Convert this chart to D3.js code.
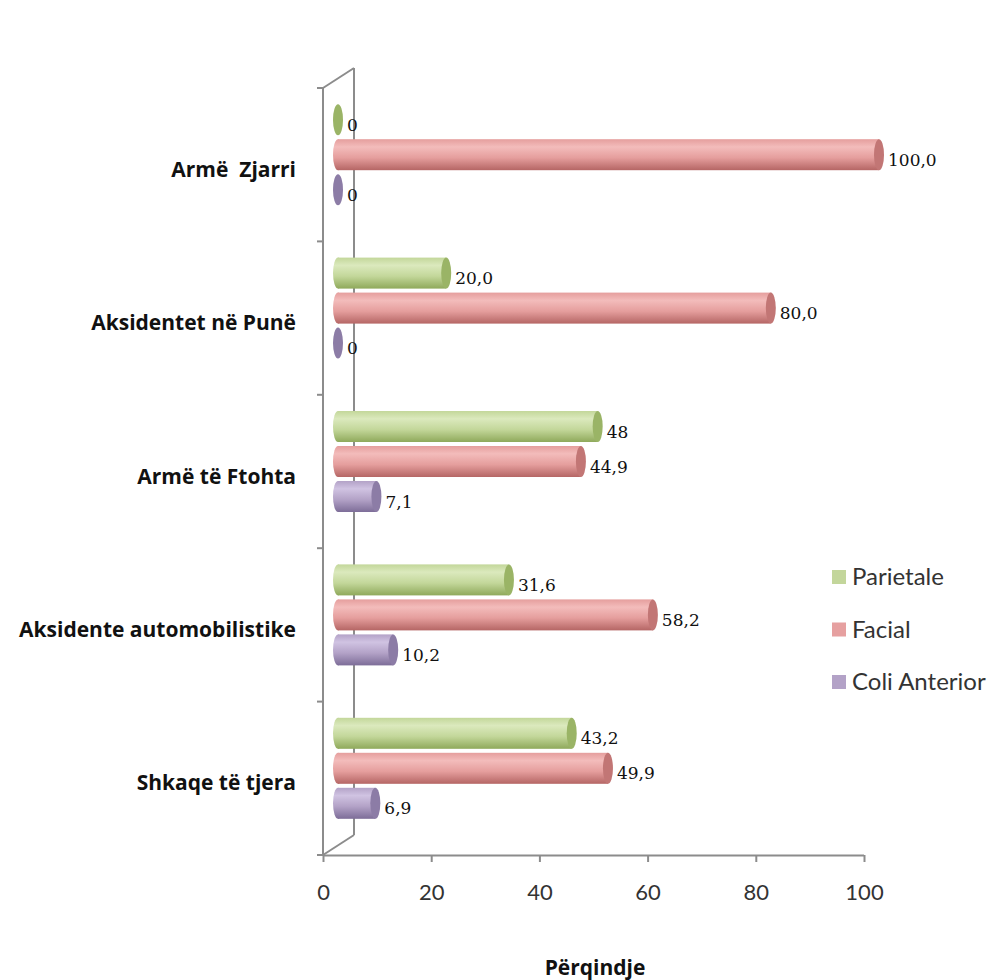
<!DOCTYPE html>
<html>
<head>
<meta charset="utf-8">
<script src="https://cdn.jsdelivr.net/npm/d3@7"></script>
<style>
  html, body { margin: 0; padding: 0; background: #fff; }
  svg { display: block; }
  .cat { white-space: pre; }
</style>
</head>
<body>
<script>
// Categories (top to bottom) and the three series
const categories = ["Armë  Zjarri", "Aksidentet në Punë", "Armë të Ftohta", "Aksidente automobilistike", "Shkaqe të tjera"];
const seriesNames = ["Parietale", "Facial", "Coli Anterior"];
const parietale = [0, 20.0, 48, 31.6, 43.2];
const facial = [100.0, 80.0, 44.9, 58.2, 49.9];
const coliAnterior = [0, 0, 7.1, 10.2, 6.9];
// Value labels as printed next to each bar
const parietaleLabels = ["0", "20,0", "48", "31,6", "43,2"];
const facialLabels = ["100,0", "80,0", "44,9", "58,2", "49,9"];
const coliLabels = ["0", "0", "7,1", "10,2", "6,9"];
const xTicks = [0, 20, 40, 60, 80, 100];
const xTitle = "Përqindje";

const W = 991, H = 980;
const series = [
  { name: seriesNames[0], values: parietale, labels: parietaleLabels,
    light: "#dbe9bd", mid: "#c3d79a", dark: "#8fa95b", cap: "#9ab466", legend: "#c3d69b" },
  { name: seriesNames[1], values: facial, labels: facialLabels,
    light: "#f3bcbb", mid: "#e59e9d", dark: "#b56665", cap: "#c27675", legend: "#e6a0a0" },
  { name: seriesNames[2], values: coliAnterior, labels: coliLabels,
    light: "#d0c3e2", mid: "#b3a2c7", dark: "#7d6d98", cap: "#8c7ca6", legend: "#b3a2c7" }
];

const sans = "Lato, 'Open Sans', sans-serif";
const boldSans = "'Open Sans', Lato, sans-serif";
const svg = d3.select("body").append("svg").attr("width", W).attr("height", H);

const x = d3.scaleLinear().domain([0, 100]).range([323, 864]);
const y = d3.scaleBand().domain(categories).range([88, 855]).padding(0);

// 3D depth offsets: back wall and bar mid-depth
const wallDx = 31, wallDy = -20;
const barDx = 15, barDy = -10;
const barH = 31, barGap = 35, capRx = 5;

// Gradients for cylinder shading
const defs = svg.append("defs");
series.forEach((s, i) => {
  const g = defs.append("linearGradient").attr("id", "cyl" + i)
    .attr("x1", 0).attr("y1", 0).attr("x2", 0).attr("y2", 1);
  g.append("stop").attr("offset", "0%").attr("stop-color", s.mid);
  g.append("stop").attr("offset", "25%").attr("stop-color", s.light);
  g.append("stop").attr("offset", "60%").attr("stop-color", s.mid);
  g.append("stop").attr("offset", "100%").attr("stop-color", s.dark);
});

const axisColor = "#8c8c8c";
const frame = svg.append("g").attr("stroke", axisColor).attr("stroke-width", 2).attr("fill", "none");
const x0 = x(0), yTop = y.range()[0], yBot = y.range()[1];
// front vertical axis
frame.append("line").attr("x1", x0).attr("y1", yTop).attr("x2", x0).attr("y2", yBot);
// back wall vertical edge
frame.append("line").attr("x1", x0 + wallDx).attr("y1", yTop + wallDy).attr("x2", x0 + wallDx).attr("y2", yBot + wallDy);
// top and bottom depth edges
frame.append("line").attr("x1", x0).attr("y1", yTop).attr("x2", x0 + wallDx).attr("y2", yTop + wallDy);
frame.append("line").attr("x1", x0).attr("y1", yBot).attr("x2", x0 + wallDx).attr("y2", yBot + wallDy);
// category tick marks on the left axis
const bounds = categories.map(c => y(c)).concat([yBot]);
frame.selectAll("line.ct").data(bounds).enter().append("line")
  .attr("x1", x0 - 6).attr("x2", x0).attr("y1", d => d).attr("y2", d => d);

// bottom value axis
const xAxis = svg.append("g").attr("transform", `translate(0,${yBot})`)
  .call(d3.axisBottom(x).tickValues(xTicks).tickSize(7).tickPadding(10).tickFormat(d3.format("d")));
xAxis.select(".domain").attr("stroke", axisColor).attr("stroke-width", 2).attr("d", `M${x0},0.5H${x(100)}`);
xAxis.selectAll(".tick line").attr("stroke", axisColor).attr("stroke-width", 2);
xAxis.selectAll(".tick text").attr("font-family", sans).attr("dy", null).attr("y", 45)
  .attr("font-size", 22).attr("fill", "#333");

// category labels
svg.append("g").selectAll("text").data(categories).enter().append("text")
  .attr("class", "cat")
  .attr("x", 296).attr("y", d => y(d) + y.bandwidth() / 2 + 12)
  .attr("text-anchor", "end")
  .attr("font-family", boldSans).attr("font-weight", "bold")
  .attr("font-size", 21).attr("fill", "#111")
  .text(d => d);

// cylinders
const bars = svg.append("g");
categories.forEach((c, ci) => {
  const cy0 = y(c) + y.bandwidth() / 2 + barDy;
  series.forEach((s, si) => {
    const v = s.values[ci];
    const cy = cy0 + (si - 1) * barGap;
    const xl = x(0) + barDx, xr = x(v) + barDx;
    const top = cy - barH / 2;
    const g = bars.append("g");
    if (v > 0) {
      g.append("ellipse").attr("cx", xl).attr("cy", cy).attr("rx", capRx).attr("ry", barH / 2)
        .attr("fill", `url(#cyl${si})`);
      g.append("rect").attr("x", xl).attr("y", top).attr("width", xr - xl).attr("height", barH)
        .attr("fill", `url(#cyl${si})`);
    }
    g.append("ellipse").attr("cx", xr).attr("cy", cy).attr("rx", capRx).attr("ry", barH / 2)
      .attr("fill", s.cap);
    g.append("text").attr("x", xr + capRx + 4).attr("y", cy + 11)
      .attr("font-family", "'DejaVu Serif', serif")
      .attr("font-size", 17).attr("fill", "#111")
      .text(s.labels[ci]);
  });
});

// axis title
svg.append("text").attr("x", 595).attr("y", 975).attr("text-anchor", "middle")
  .attr("font-family", boldSans).attr("font-weight", "bold")
  .attr("font-size", 21).attr("fill", "#111").text(xTitle);

// legend
const legend = svg.append("g").attr("transform", "translate(832,577)");
const li = legend.selectAll("g").data(series).enter().append("g")
  .attr("transform", (d, i) => `translate(0,${i * 52.5})`);
li.append("rect").attr("x", 0).attr("y", -7).attr("width", 14).attr("height", 14).attr("fill", d => d.legend);
li.append("text").attr("x", 20).attr("y", 8)
  .attr("font-family", sans).attr("font-size", 24).attr("fill", "#333")
  .text(d => d.name);
</script>
</body>
</html>
